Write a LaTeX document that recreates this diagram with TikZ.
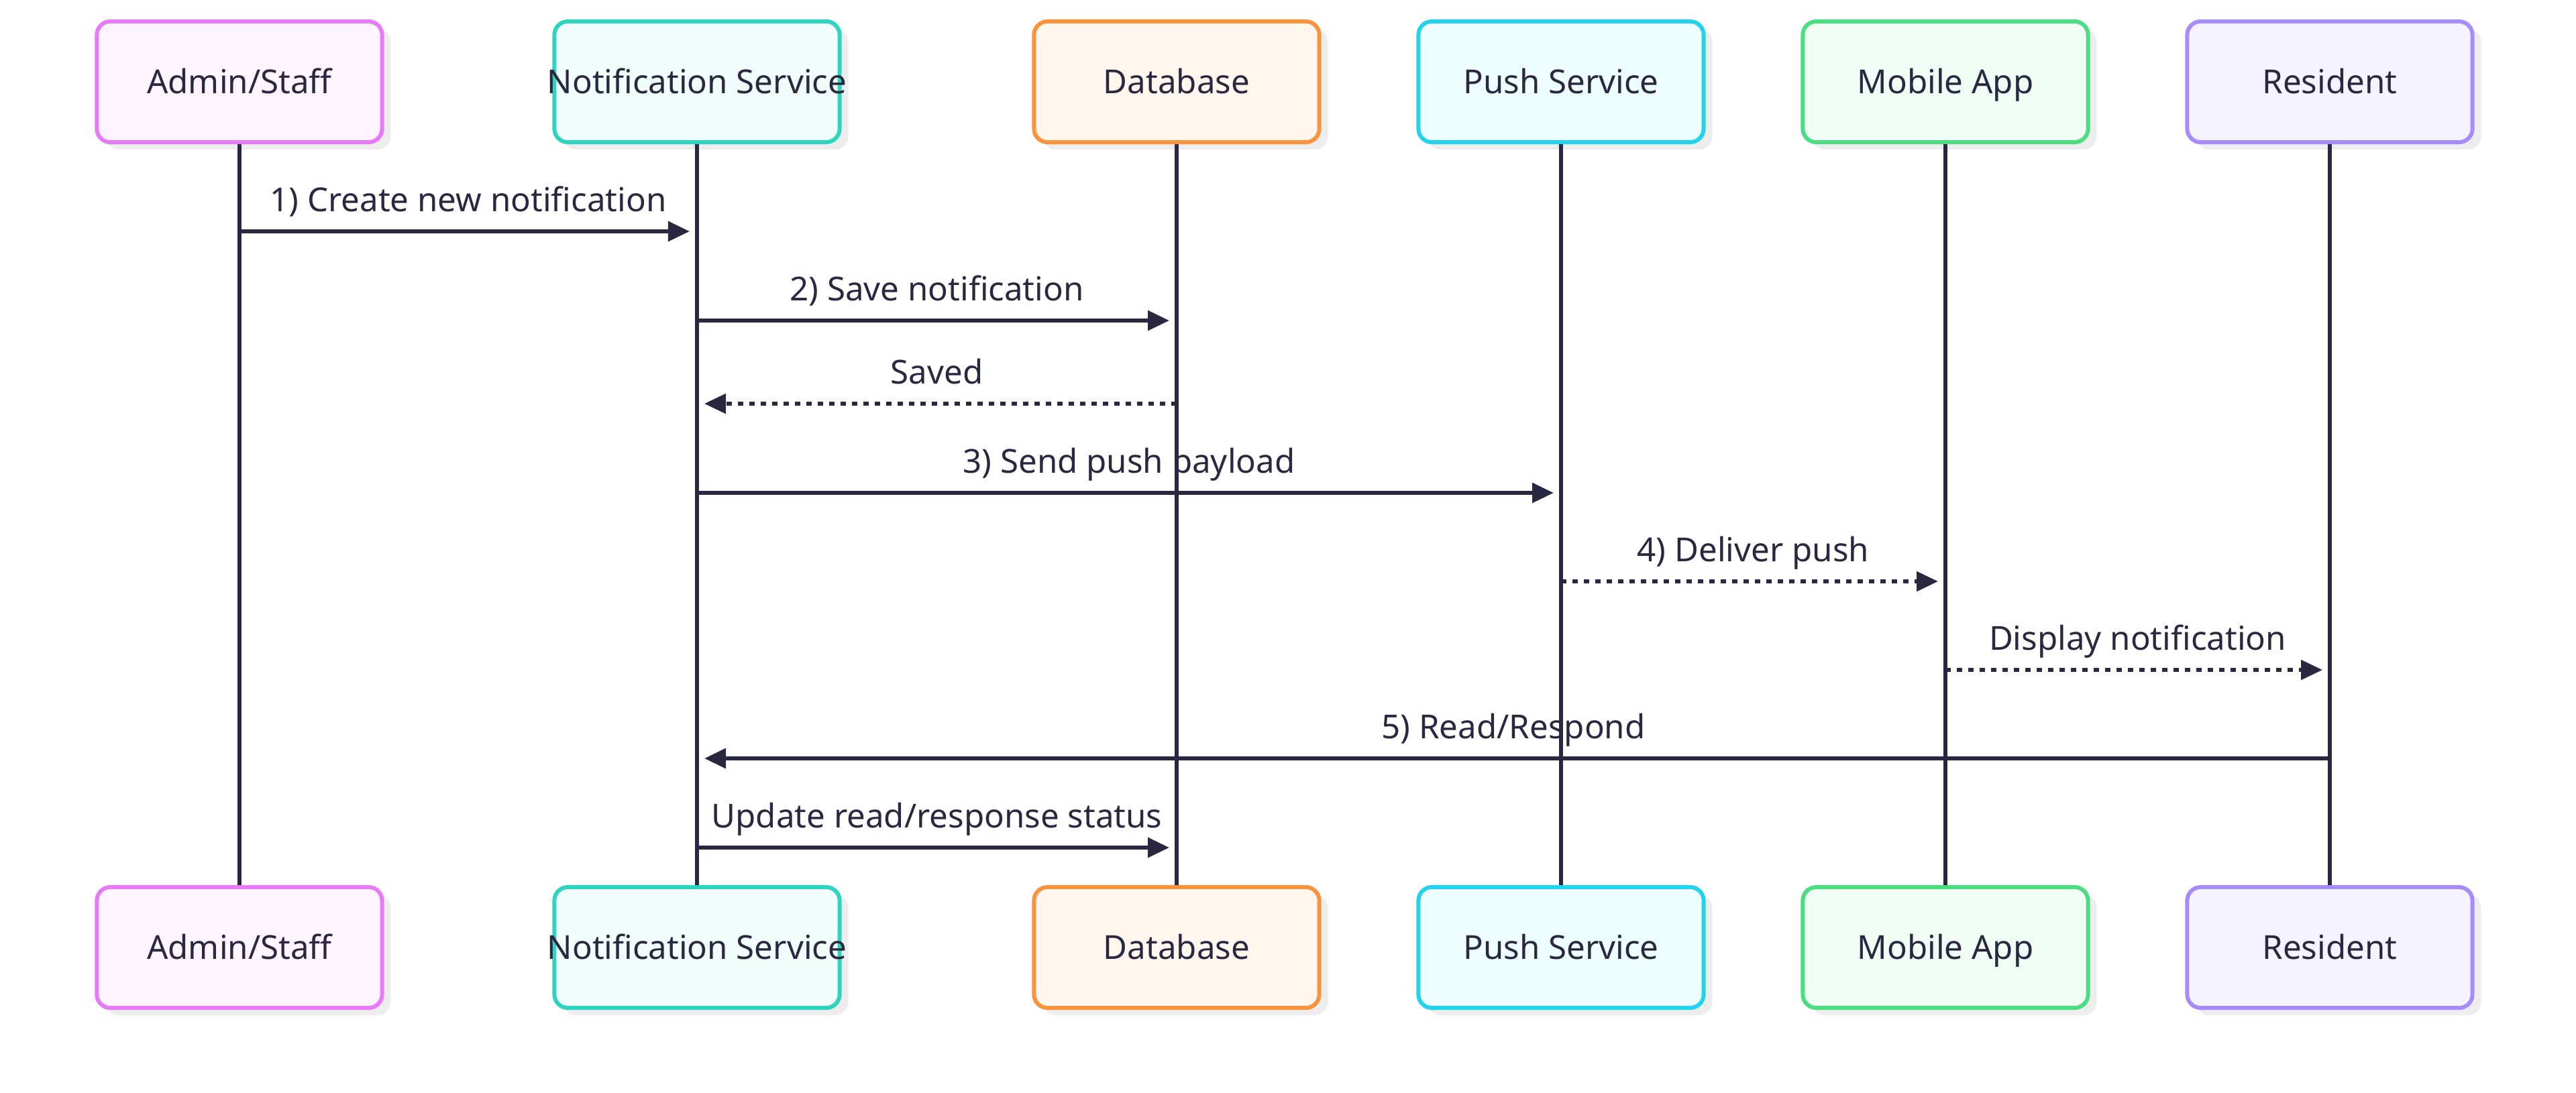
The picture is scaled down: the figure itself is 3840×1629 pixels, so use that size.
\documentclass[tikz,border=0pt]{standalone}
\usepackage{fontspec}
\setmainfont{Noto Sans}
\usetikzlibrary{arrows.meta,shadows}

\definecolor{ink}{HTML}{2A2740}
\definecolor{adminline}{HTML}{E879F9}
\definecolor{adminfill}{HTML}{FDF4FF}
\definecolor{notifline}{HTML}{2DD4BF}
\definecolor{notiffill}{HTML}{F0FDFA}
\definecolor{dbline}{HTML}{FB923C}
\definecolor{dbfill}{HTML}{FFF7ED}
\definecolor{pushline}{HTML}{22D3EE}
\definecolor{pushfill}{HTML}{ECFEFF}
\definecolor{mobileline}{HTML}{4ADE80}
\definecolor{mobilefill}{HTML}{F0FDF4}
\definecolor{residentline}{HTML}{A78BFA}
\definecolor{residentfill}{HTML}{F5F3FF}

\begin{document}
\begin{tikzpicture}[
    x=0.01cm, y=-0.01cm,
    font=\fontsize{14}{17}\selectfont, text=ink,
    actor/.style={shape=rectangle, rounded corners=2mm, line width=1.7pt, minimum width=4.25cm, minimum height=1.8cm, inner sep=0pt, text height=10pt, text depth=0pt, drop shadow={shadow xshift=1.3mm, shadow yshift=-1.1mm, fill=black!7, opacity=1}},
    lifeline/.style={draw=ink, line width=1.6pt},
    msg/.style={draw=ink, line width=1.7pt, -{Triangle[length=3.2mm, width=2.9mm]}, shorten >=1.1mm},
    reply/.style={msg, line width=1.5pt, dash pattern=on 0.8mm off 0.9mm},
    msglabel/.style={midway, anchor=base, yshift=3mm},
  ]
    \useasboundingbox (0,0) rectangle (3840,1629);

    \node[actor, draw=adminline, fill=adminfill] (adminT) at (357,122) {Admin/Staff};
    \node[actor, draw=notifline, fill=notiffill] (notifT) at (1039,122) {\makebox[0pt]{Notification Service}};
    \node[actor, draw=dbline, fill=dbfill] (dbT) at (1754,122) {Database};
    \node[actor, draw=pushline, fill=pushfill] (pushT) at (2327,122) {Push Service};
    \node[actor, draw=mobileline, fill=mobilefill] (mobileT) at (2900,122) {Mobile App};
    \node[actor, draw=residentline, fill=residentfill] (residentT) at (3473,122) {Resident};

    \node[actor, draw=adminline, fill=adminfill] (adminB) at (357,1413) {Admin/Staff};
    \node[actor, draw=notifline, fill=notiffill] (notifB) at (1039,1413) {\makebox[0pt]{Notification Service}};
    \node[actor, draw=dbline, fill=dbfill] (dbB) at (1754,1413) {Database};
    \node[actor, draw=pushline, fill=pushfill] (pushB) at (2327,1413) {Push Service};
    \node[actor, draw=mobileline, fill=mobilefill] (mobileB) at (2900,1413) {Mobile App};
    \node[actor, draw=residentline, fill=residentfill] (residentB) at (3473,1413) {Resident};

    \draw[lifeline] (adminT) -- (adminB);
    \draw[lifeline] (notifT) -- (notifB);
    \draw[lifeline] (dbT) -- (dbB);
    \draw[lifeline] (pushT) -- (pushB);
    \draw[lifeline] (mobileT) -- (mobileB);
    \draw[lifeline] (residentT) -- (residentB);

    % message rows
    \coordinate (m1) at (0,345);
    \coordinate (m2) at (0,478);
    \coordinate (m3) at (0,602);
    \coordinate (m4) at (0,735);
    \coordinate (m5) at (0,867);
    \coordinate (m6) at (0,999);
    \coordinate (m7) at (0,1131);
    \coordinate (m8) at (0,1264);

    \draw[msg] (adminT |- m1) -- (notifT |- m1) node[msglabel] {1) Create new notification};
    \draw[msg] (notifT |- m2) -- (dbT |- m2) node[msglabel] {2) Save notification};
    \draw[reply] (dbT |- m3) -- (notifT |- m3) node[msglabel] {Saved};
    \draw[msg] (notifT |- m4) -- (pushT |- m4) node[msglabel] {3) Send push payload};
    \draw[reply] (pushT |- m5) -- (mobileT |- m5) node[msglabel] {4) Deliver push};
    \draw[reply] (mobileT |- m6) -- (residentT |- m6) node[msglabel] {Display notification};
    \draw[msg] (residentT |- m7) -- (notifT |- m7) node[msglabel] {5) Read/Respond};
    \draw[msg] (notifT |- m8) -- (dbT |- m8) node[msglabel] {Update read/response status};

  \end{tikzpicture}
\end{document}
